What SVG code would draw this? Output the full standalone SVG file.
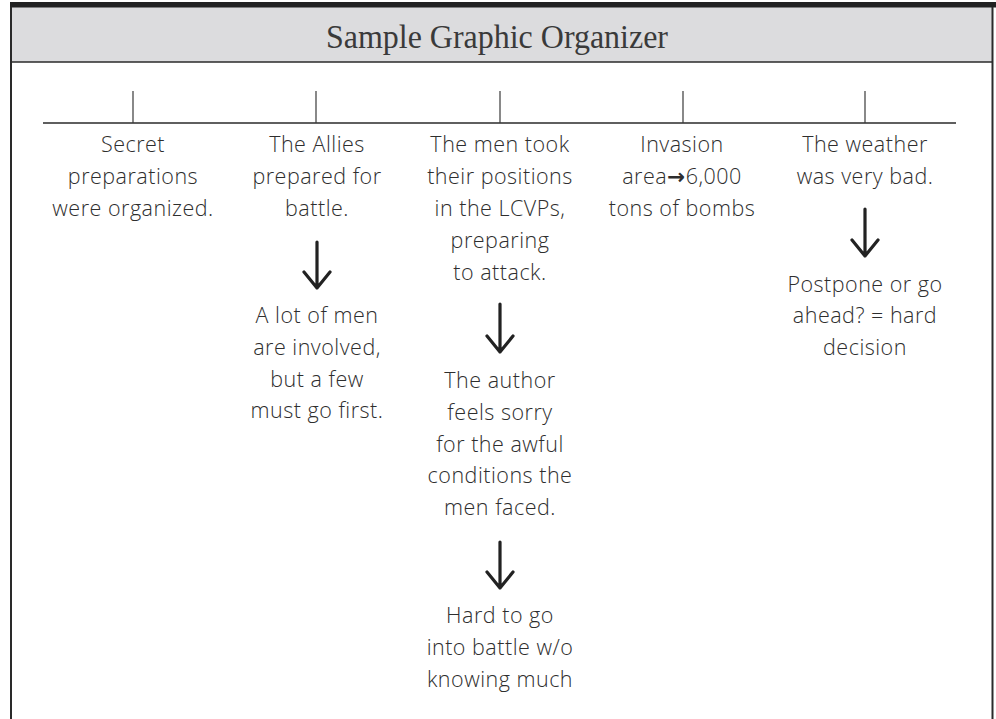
<svg xmlns="http://www.w3.org/2000/svg" width="996" height="719" viewBox="0 0 996 719">
  <style>
    .frame { fill: none; stroke: #2a2a2a; stroke-width: 2; }
    .rule { stroke: #2a2a2a; stroke-width: 1.5; }
    .tick { stroke: #3a3a3a; stroke-width: 1.2; }
    .title { font-family: "Liberation Serif", serif; font-size: 34px; fill: #3a3a3a; }
    .hand { font-family: "Open Sans", "Liberation Sans", sans-serif; font-size: 21.5px; font-weight: 300; letter-spacing: 0.5px; fill: #2e2e2e; text-anchor: middle; }
    .sym { font-family: "DejaVu Sans", sans-serif; font-weight: 700; }
    .arrow { fill: none; stroke: #222; stroke-width: 3.2; stroke-linecap: round; stroke-linejoin: round; }
  </style>

  <!-- page background -->
  <rect x="0" y="0" width="996" height="719" fill="#fff"/>

  <!-- header band -->
  <g id="header">
    <rect x="10" y="7" width="983" height="55" fill="#dcdcde"/>
    <rect x="10" y="2" width="986" height="5.5" fill="#222"/>
    <line class="rule" x1="10" y1="62" x2="993" y2="62"/>
    <text class="title" x="497" y="48" text-anchor="middle" textLength="342" lengthAdjust="spacingAndGlyphs">Sample Graphic Organizer</text>
  </g>

  <!-- outer frame sides -->
  <line class="frame" x1="11" y1="7" x2="11" y2="719"/>
  <line class="frame" x1="992.5" y1="7" x2="992.5" y2="719"/>

  <!-- timeline -->
  <g id="timeline">
    <line class="rule" x1="43" y1="123" x2="956" y2="123"/>
    <line class="tick" x1="133" y1="91" x2="133" y2="123"/>
    <line class="tick" x1="316" y1="91" x2="316" y2="123"/>
    <line class="tick" x1="500" y1="91" x2="500" y2="123"/>
    <line class="tick" x1="683" y1="91" x2="683" y2="123"/>
    <line class="tick" x1="865" y1="91" x2="865" y2="123"/>
  </g>

  <!-- column 1 -->
  <g id="event-1">
    <text class="hand" x="133" y="152">Secret</text>
    <text class="hand" x="133" y="184">preparations</text>
    <text class="hand" x="133" y="216">were organized.</text>
  </g>

  <!-- column 2 -->
  <g id="event-2">
    <text class="hand" x="317" y="152">The Allies</text>
    <text class="hand" x="317" y="184">prepared for</text>
    <text class="hand" x="317" y="216">battle.</text>
  </g>
  <g id="event-2-result">
    <text class="hand" x="317" y="323">A lot of men</text>
    <text class="hand" x="317" y="355">are involved,</text>
    <text class="hand" x="317" y="387">but a few</text>
    <text class="hand" x="317" y="418">must go first.</text>
  </g>

  <!-- column 3 -->
  <g id="event-3">
    <text class="hand" x="500" y="152">The men took</text>
    <text class="hand" x="500" y="184">their positions</text>
    <text class="hand" x="500" y="216">in the LCVPs,</text>
    <text class="hand" x="500" y="248">preparing</text>
    <text class="hand" x="500" y="280">to attack.</text>
  </g>
  <g id="event-3-result">
    <text class="hand" x="500" y="388">The author</text>
    <text class="hand" x="500" y="420">feels sorry</text>
    <text class="hand" x="500" y="452">for the awful</text>
    <text class="hand" x="500" y="483">conditions the</text>
    <text class="hand" x="500" y="515">men faced.</text>
  </g>
  <g id="event-3-conclusion">
    <text class="hand" x="500" y="623">Hard to go</text>
    <text class="hand" x="500" y="655">into battle w/o</text>
    <text class="hand" x="500" y="687">knowing much</text>
  </g>

  <!-- column 4 -->
  <g id="event-4">
    <text class="hand" x="682" y="152">Invasion</text>
    <text class="hand" x="682" y="184">area<tspan class="sym">→</tspan>6,000</text>
    <text class="hand" x="682" y="216">tons of bombs</text>
  </g>

  <!-- column 5 -->
  <g id="event-5">
    <text class="hand" x="865" y="152">The weather</text>
    <text class="hand" x="865" y="184">was very bad.</text>
  </g>
  <g id="event-5-result">
    <text class="hand" x="865" y="292">Postpone or go</text>
    <text class="hand" x="865" y="323">ahead? = hard</text>
    <text class="hand" x="865" y="355">decision</text>
  </g>

  <!-- downward arrows -->
  <g id="connectors">
    <path class="arrow" d="M317,242 V288 M304,272 L317,288 L330,272"/>
    <path class="arrow" d="M500,304 V352 M487,336 L500,352 L513,336"/>
    <path class="arrow" d="M500,542 V588 M487,572 L500,588 L513,572"/>
    <path class="arrow" d="M865,209 V256 M852,240 L865,256 L878,240"/>
  </g>
</svg>
